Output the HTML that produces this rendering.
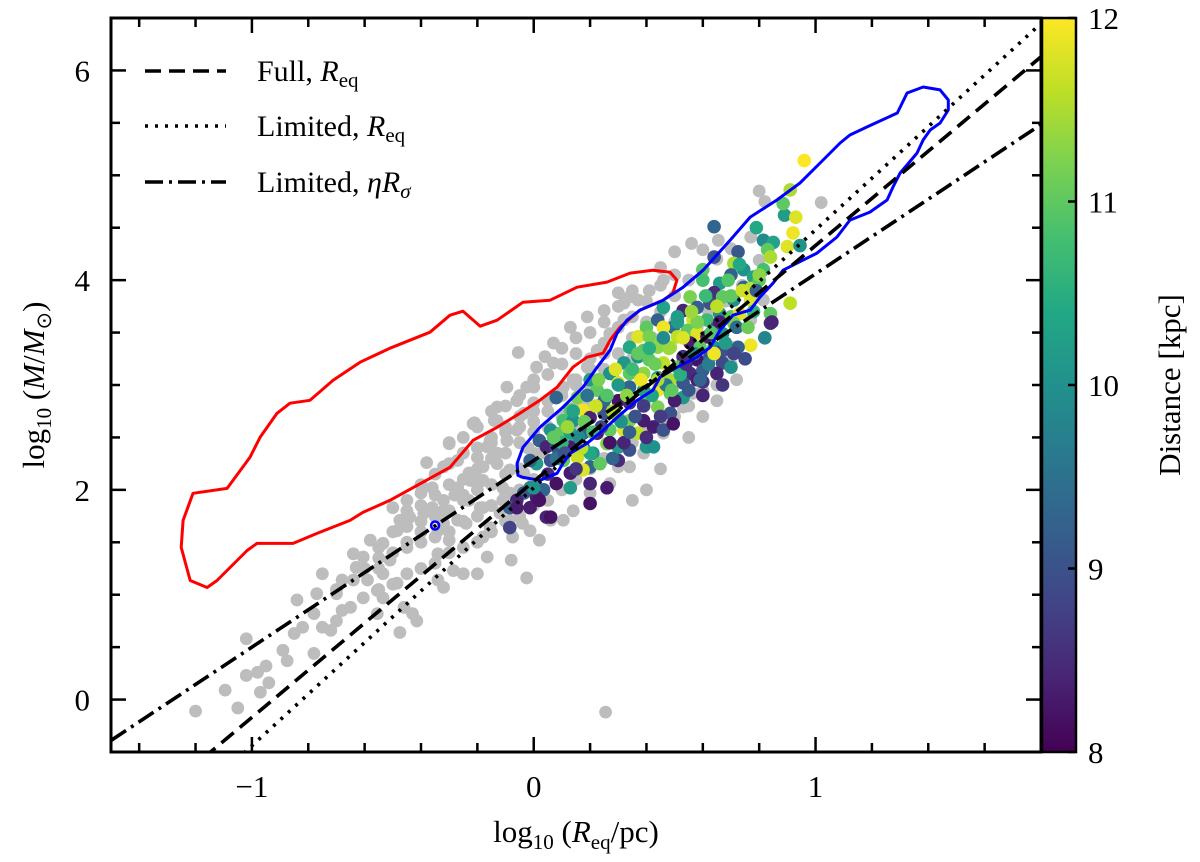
<!DOCTYPE html>
<html><head><meta charset="utf-8"><style>
html,body{margin:0;padding:0;background:#fff;}
svg{display:block;font-family:"Liberation Serif",serif;}
</style></head><body>
<svg id="chart" width="1200" height="862" viewBox="0 0 1200 862" xmlns="http://www.w3.org/2000/svg">
<defs>
<clipPath id="clip"><rect x="111" y="18" width="930" height="734"/></clipPath>
<linearGradient id="viridis" x1="0" y1="1" x2="0" y2="0">
<stop offset="0" stop-color="#440154"/><stop offset="0.1" stop-color="#482475"/><stop offset="0.2" stop-color="#414487"/><stop offset="0.3" stop-color="#355f8d"/><stop offset="0.4" stop-color="#2a788e"/><stop offset="0.5" stop-color="#21918c"/><stop offset="0.6" stop-color="#22a884"/><stop offset="0.7" stop-color="#44bf70"/><stop offset="0.8" stop-color="#7ad151"/><stop offset="0.9" stop-color="#bddf26"/><stop offset="1" stop-color="#fde725"/>
</linearGradient>
</defs>
<g id="plot" clip-path="url(#clip)"></g>
<g id="axes"></g>
</svg>
<script>
const xDomain=[-1.5,1.8], yDomain=[-0.5,6.5], cDomain=[8,12];
const xTicks=[-1,0,1], xTickLabels=["\u22121","0","1"];
const yTicks=[0,2,4,6], yTickLabels=["0","2","4","6"];
const cTicks=[8,9,10,11,12];
const grayX=[-1.20,-1.05,-1.095,-1.02,-1.02,-0.98,-0.95,-0.94,-0.97,-0.89,-0.875,-0.85,-0.82,-0.84,-0.77,-0.75,-0.78,-0.75,-0.78,-0.72,-0.70,-0.68,-0.64,-0.64,-0.605,-0.58,-0.59,-0.555,-0.535,-0.51,-0.485,-0.50,-0.45,-0.44,-0.475,-0.40,-0.38,-0.30,-0.39,-0.485,-0.46,-0.415,-0.475,-0.43,-0.34,-0.32,-0.285,-0.25,-0.20,-0.165,-0.08,-0.025,0.02,-0.18,-0.34,-0.30,-0.24,-0.23,-0.18,-0.165,-0.215,-0.13,-0.095,-0.06,0.0,-0.12,-0.11,-0.04,-0.075,-0.23,-0.27,-0.32,-0.36,-0.32,-0.27,-0.25,-0.18,-0.13,-0.085,-0.20,-0.155,-0.535,-0.63,-0.68,-0.70,-0.605,-0.65,-0.535,-0.555,-0.055,0.04,0.07,-0.21,-0.14,-0.30,-0.27,-0.32,-0.36,0.25,0.32,0.34,0.37,0.41,0.45,0.46,0.50,0.56,0.60,0.655,0.77,1.02,0.80,0.32,0.27,0.225,0.19,0.14,0.105,0.05,0.0,-0.035,-0.06,-0.095,-0.13,-0.18,-0.225,-0.27,-0.32,-0.34,-0.19,-0.11,-0.085,-0.013,0.105,0.14,0.20,0.27,0.34,0.39,0.46,0.53,0.565,0.65,0.67,0.70,0.77,0.815,0.06,0.30,0.485,-0.085,-0.035,-0.155,-0.25,-0.13,-0.095,-0.025,0.01,0.07,0.13,0.19,0.30,0.255,0.8,0.82,0.45,0.55,0.6,0.65,0.4,0.35,0.72,-0.05,0.05,0.1,0.15,0.2,0.25,-0.15,-0.1,0.0,0.08,0.12,0.18,0.22,0.28,0.35,0.42,0.5,-0.4,-0.35,-0.45,-0.55,-0.6,-0.7,-0.2,-0.28,0.58,0.62,0.68,0.74,-0.02,0.03,0.16,0.24,
-0.55,-0.55,-0.55,-0.5,-0.5,-0.5,-0.45,-0.45,-0.45,-0.45,-0.4,-0.4,-0.4,-0.4,-0.4,-0.35,-0.35,-0.35,-0.35,-0.35,-0.3,-0.3,-0.3,-0.3,-0.3,-0.25,-0.25,-0.25,-0.25,-0.25,-0.25,-0.2,-0.2,-0.2,-0.2,-0.2,-0.2,-0.15,-0.15,-0.15,-0.15,-0.15,-0.15,-0.1,-0.1,-0.1,-0.1,-0.1,-0.1,-0.05,-0.05,-0.05,-0.05,-0.05,-0.05,0.0,0.0,0.0,0.0,0.0,0.0,0.05,0.05,0.05,0.05,0.1,0.1,0.1,0.1,0.1,0.15,0.15,0.15,0.15,0.15,0.2,0.2,0.2,0.2,0.25,0.25,0.25,0.25,0.3,0.3,0.3,0.3,0.35,0.35,0.35,0.35,0.4,0.4,0.4,0.45,0.45,0.45,0.5,0.5,0.5,0.55,0.55,0.6,0.6,0.65,0.65,0.7,0.7];
const grayY=[-0.11,-0.08,0.09,0.23,0.58,0.26,0.32,0.16,0.07,0.47,0.37,0.63,0.69,0.95,1.01,1.20,0.82,0.69,0.44,0.66,0.75,0.85,1.14,1.39,1.36,1.52,1.14,1.04,1.20,1.33,1.61,1.83,1.80,1.74,1.71,1.97,2.26,2.44,1.78,1.11,0.88,0.75,0.64,0.82,1.14,1.07,1.23,1.20,1.20,1.36,1.33,1.16,1.52,1.55,1.39,1.52,1.68,1.90,2.09,2.41,2.63,2.66,2.47,2.85,2.98,1.78,2.02,1.68,1.55,2.16,2.02,1.90,1.83,1.68,1.71,1.90,1.83,2.25,2.19,2.31,1.64,1.49,1.26,1.14,1.01,0.97,0.88,0.97,0.82,3.31,3.27,3.21,2.64,2.66,2.45,2.28,2.22,2.02,3.71,3.78,3.84,3.81,3.90,4.12,4.00,4.27,4.35,4.29,4.38,4.41,4.74,4.19,3.62,3.49,3.33,3.17,3.05,2.98,2.85,2.83,2.73,2.57,2.47,2.35,2.22,2.09,1.97,1.80,1.61,1.83,1.90,1.71,1.61,1.71,1.80,1.97,2.06,2.22,2.35,2.54,2.79,2.92,3.11,3.26,3.36,3.62,3.81,1.71,2.22,2.73,1.97,2.16,2.47,2.35,2.79,2.98,2.98,3.17,3.40,3.55,3.65,3.88,-0.12,4.85,4.75,2.2,2.5,2.7,2.85,2.0,1.9,3.05,2.6,2.75,2.9,3.0,3.15,3.3,2.45,2.55,2.65,2.5,2.7,2.8,3.0,3.1,3.25,3.45,3.6,1.6,1.75,1.5,1.35,1.25,1.05,2.1,1.95,3.55,3.7,3.8,3.95,2.4,2.35,2.55,2.6,
1.05,1.25,1.45,1.1,1.4,1.6,1.2,1.45,1.65,1.9,1.25,1.5,1.7,1.85,2.05,1.3,1.55,1.75,1.95,2.15,1.4,1.6,1.8,2.05,2.25,1.45,1.7,1.95,2.1,2.35,2.5,1.5,1.75,2.0,2.2,2.4,2.6,1.6,1.85,2.05,2.3,2.5,2.75,1.7,1.95,2.15,2.35,2.6,2.8,1.75,2.0,2.2,2.45,2.7,2.9,1.85,2.1,2.35,2.55,2.75,3.05,1.9,2.6,2.85,3.1,2.0,2.7,2.95,3.2,3.35,2.1,2.8,3.05,3.3,3.45,2.2,3.0,3.25,3.5,2.3,3.15,3.4,3.6,2.4,3.3,3.55,3.75,2.45,3.45,3.65,3.9,2.55,3.6,3.8,2.65,3.7,3.95,2.7,3.85,4.05,2.8,4.0,2.95,4.1,3.0,4.2,3.2,4.3];
const colX=[0.64,0.89,0.93,0.885,0.79,0.92,0.815,0.85,0.90,0.945,0.83,0.84,0.815,0.91,0.84,0.84,0.77,0.725,0.64,0.725,0.71,0.745,0.70,0.78,0.60,0.66,0.745,0.77,0.80,0.60,0.64,0.67,0.71,0.77,0.555,0.58,0.625,0.66,0.70,0.73,0.53,0.51,0.565,0.615,0.65,0.67,0.71,0.46,0.495,0.545,0.58,0.615,0.44,0.40,0.46,0.37,0.41,0.46,0.51,0.555,0.59,0.64,0.67,0.34,0.39,0.44,0.485,0.53,0.58,0.625,0.67,0.70,0.37,0.41,0.46,0.51,0.555,0.60,0.65,0.32,0.34,0.39,0.44,0.485,0.53,0.58,0.60,0.27,0.30,0.34,0.39,0.44,0.485,0.53,0.20,0.225,0.25,0.30,0.34,0.39,0.44,0.485,0.155,0.175,0.13,0.105,0.14,0.20,0.25,0.30,0.34,0.39,0.425,0.46,0.495,0.06,0.095,0.13,0.175,0.225,0.27,0.32,0.37,0.40,0.425,0.02,0.045,0.08,0.13,0.175,0.21,0.26,0.30,0.34,0.155,0.105,0.06,0.01,-0.013,0.20,0.235,0.30,0.175,0.13,0.08,0.13,0.20,0.26,0.035,-0.013,0.01,-0.035,-0.06,-0.085,-0.013,0.02,0.045,0.20,-0.085,-0.06,0.06,0.0,0.08,0.96,0.91,0.845,
0.08,0.1,0.12,0.15,0.16,0.18,0.2,0.22,0.24,0.26,0.28,0.28,0.3,0.32,0.33,0.35,0.36,0.38,0.4,0.42,0.43,0.45,0.47,0.48,0.5,0.52,0.53,0.55,0.57,0.58,0.6,0.62,0.63,0.65,0.67,0.68,0.7,0.72,0.74,0.75,0.78,0.8,0.82,0.05,0.07,0.11,0.14,0.17,0.19,0.21,0.23,0.27,0.29,0.31,0.34,0.37,0.39,0.41,0.44,0.46,0.49,0.51,0.54,0.56,0.59,0.61,0.64,0.66,0.69,0.71,0.73,0.76,0.79];
const colY=[4.51,4.62,4.60,4.73,4.50,4.45,4.38,4.36,4.32,4.33,4.29,4.22,4.10,3.78,3.68,3.59,3.38,3.36,4.22,4.27,4.16,4.10,4.05,4.03,4.10,3.97,3.93,3.92,4.00,4.00,3.88,3.84,3.81,3.81,3.84,3.74,3.78,3.68,3.65,3.68,3.71,3.65,3.62,3.62,3.55,3.49,3.59,3.74,3.55,3.52,3.49,3.46,3.62,3.55,3.55,3.46,3.46,3.43,3.46,3.40,3.36,3.36,3.33,3.36,3.33,3.36,3.36,3.27,3.24,3.27,3.21,3.17,3.27,3.24,3.21,3.17,3.11,3.14,3.11,3.21,3.11,3.11,3.07,3.05,3.02,3.05,3.03,3.11,3.02,2.98,2.95,2.95,2.92,2.88,3.05,2.95,2.85,2.85,2.83,2.83,2.79,2.73,2.88,2.76,2.76,2.66,2.66,2.69,2.73,2.69,2.66,2.66,2.60,2.57,2.63,2.57,2.54,2.54,2.54,2.54,2.57,2.57,2.54,2.41,2.41,2.47,2.41,2.41,2.41,2.41,2.35,2.44,2.41,2.38,2.31,2.28,2.28,2.25,2.28,2.22,2.25,2.28,2.19,2.16,2.06,2.02,2.06,2.02,2.00,2.02,1.93,1.97,1.90,1.83,1.83,1.90,1.74,1.87,1.64,1.83,1.74,2.02,2.88,5.14,4.86,3.60,
2.3,2.45,2.6,2.2,2.5,2.65,2.35,2.8,2.6,2.9,2.3,2.75,3.0,2.45,2.9,3.15,2.7,3.05,2.5,2.9,3.2,2.7,3.0,3.35,2.85,3.1,3.45,2.95,3.3,3.6,2.9,3.2,3.5,3.75,3.0,3.4,3.85,3.55,3.9,3.25,3.7,4.05,3.45,2.15,2.5,2.35,2.75,2.4,2.9,2.55,3.05,2.45,3.15,2.65,2.55,3.3,2.8,3.35,3.05,3.45,2.95,3.6,3.2,3.7,3.05,3.85,3.3,3.6,4.0,3.3,4.15,3.55,3.9];
const colD=[9.3,10.2,11.8,11,10.4,11.9,9.9,10.3,11.8,10,11,11.5,10.8,11.6,11,8.5,11.9,9.2,9.0,9.1,11.5,10,9.2,10.3,11,10.2,9.3,11.6,11,10.8,8.5,11,10,11.8,11.2,9.2,9.0,10,11,11.8,8.4,10.2,11.7,10.7,9.0,10,11.2,10.3,9.4,11,11.8,8.3,9.2,11,11.9,11.8,11.2,10.2,11.6,8.3,11,10,9,10.4,11,11.3,11.5,8.5,8.2,9.1,8.9,10,10,11,11.6,11,8.5,9.2,8.4,10.1,11,11.3,10.2,11.5,9.1,8.3,8.6,10,11.8,9.3,10.3,11.9,11,10.1,10.2,11,9.3,8.2,8.5,11,11.2,9,11.2,11.9,11,10.8,10,8.4,9,11,11.2,8.3,8.3,9,8.2,10,11,10.3,9.2,8.3,11,11.8,11.6,10.1,10,9.2,8.4,9,8.3,9.1,10,11.2,10.2,9,11.7,11,9,10.2,9.2,9.3,11,8.5,11.8,8.3,8.2,10.2,8.4,8.3,9.3,9.8,8.3,9.1,8.4,9.2,8.3,8.2,8.4,8.2,8.8,8.3,8.2,10,9.3,12,11.5,8.4,
9.5,10.6,11.4,8.6,9.9,11.1,10.4,11.7,8.8,10.9,9.3,11.5,10.1,8.4,11.3,10.7,9.0,11.9,8.5,10.3,11.1,8.7,9.6,11.4,8.3,10.5,11.8,9.1,10.0,11.2,8.4,9.7,10.9,11.6,8.6,10.2,11.0,9.4,11.7,8.9,10.6,11.3,9.8,8.5,11.0,9.0,10.3,11.6,9.5,10.8,11.2,8.2,11.8,10.0,9.2,11.0,8.7,10.5,11.5,9.9,11.0,10.2,8.5,11.4,9.3,10.7,11.9,8.3,10.9,8.8,10.4,11.1,9.2];
const redCX=[-0.712,-0.616,-0.510,-0.439,-0.368,-0.297,-0.251,-0.190,-0.130,-0.038,0.058,0.154,0.260,0.342,0.423,0.484,0.508,0.494,0.459,0.377,0.306,0.271,0.246,0.189,0.139,0.083,0.022,-0.049,-0.130,-0.215,-0.297,-0.368,-0.510,-0.606,-0.652,-0.769,-0.854,-0.982,-1.017,-1.124,-1.159,-1.219,-1.251,-1.244,-1.209,-1.088,-1.007,-0.971,-0.911,-0.865,-0.794];
const redCY=[3.045,3.217,3.351,3.427,3.504,3.666,3.704,3.561,3.618,3.790,3.809,3.933,3.981,4.067,4.095,4.076,4.00,3.876,3.809,3.714,3.551,3.427,3.303,3.265,3.170,2.979,2.855,2.730,2.597,2.473,2.215,2.110,1.900,1.785,1.709,1.585,1.489,1.489,1.422,1.136,1.069,1.136,1.451,1.709,1.967,2.014,2.310,2.501,2.730,2.826,2.854];
const blueCX=[-0.059,-0.056,-0.038,0.022,0.083,0.104,0.129,0.189,0.246,0.296,0.367,0.423,0.448,0.508,0.579,0.626,0.661,0.707,0.768,0.803,0.849,0.885,0.934,1.005,1.076,1.122,1.193,1.254,1.275,1.300,1.360,1.382,1.407,1.442,1.471,1.471,1.442,1.382,1.325,1.290,1.183,1.122,1.087,1.016,0.945,0.863,0.768,0.697,0.601,0.530,0.459,0.377,0.331,0.296,0.271,0.225,0.175,0.104,0.022,-0.038];
const blueCY=[2.253,2.138,2.119,2.091,2.158,2.253,2.348,2.444,2.568,2.692,2.854,2.950,3.074,3.169,3.265,3.360,3.523,3.666,3.714,3.838,3.971,4.095,4.162,4.258,4.411,4.573,4.649,4.764,4.888,5.021,5.212,5.337,5.432,5.499,5.623,5.718,5.814,5.842,5.785,5.594,5.461,5.384,5.308,5.117,4.926,4.764,4.601,4.382,4.095,3.933,3.809,3.714,3.618,3.494,3.332,3.169,2.979,2.788,2.597,2.406];
const fitNames=["Full","Limited-Req","Limited-etaRsigma"];
const fitSlopes=[2.25,2.46,1.78];
const fitIntercepts=[2.08,2.02,2.28];

const L=111,R=1041,T=18,B=752;
const sx=v=>L+(v-xDomain[0])/(xDomain[1]-xDomain[0])*(R-L);
const sy=v=>B-(v-yDomain[0])/(yDomain[1]-yDomain[0])*(B-T);
const sc=v=>B-(v-cDomain[0])/(cDomain[1]-cDomain[0])*(B-T);
const NS="http://www.w3.org/2000/svg";
function mk(tag,attrs,parent){const e=document.createElementNS(NS,tag);for(const k in attrs)e.setAttribute(k,attrs[k]);parent.appendChild(e);return e;}
const stops=[[0,[68,1,84]],[0.1,[72,36,117]],[0.2,[65,68,135]],[0.3,[53,95,141]],[0.4,[42,120,142]],[0.5,[33,145,140]],[0.6,[34,168,132]],[0.7,[68,191,112]],[0.8,[122,209,81]],[0.9,[189,223,38]],[1,[253,231,37]]];
function viridis(t){t=Math.max(0,Math.min(1,t));for(let i=1;i<stops.length;i++){if(t<=stops[i][0]){const a=stops[i-1],b=stops[i],f=(t-a[0])/(b[0]-a[0]);return "rgb("+a[1].map((c,j)=>Math.round(c+(b[1][j]-c)*f)).join(",")+")";}}return "rgb(253,231,37)";}
const plot=document.getElementById('plot'),axes=document.getElementById('axes');

const gG=mk('g',{},plot);


for(let i=0;i<grayX.length;i++){const c=mk('circle',{cx:sx(grayX[i]),cy:sy(grayY[i]),r:6.4,fill:'#bdbdbd'},gG);

}
const gC=mk('g',{},plot);


for(let i=0;i<colX.length;i++){const c=mk('circle',{cx:sx(colX[i]),cy:sy(colY[i]),r:6.8,fill:viridis((colD[i]-cDomain[0])/(cDomain[1]-cDomain[0]))},gC);

}
function contour(xs,ys,col,name){let d='';for(let i=0;i<xs.length;i++)d+=(i?'L':'M')+sx(xs[i]).toFixed(1)+','+sy(ys[i]).toFixed(1);d+='Z';
const p=mk('path',{d:d,fill:'none',stroke:col,'stroke-width':3,'stroke-linejoin':'round'},plot);

}
contour(redCX,redCY,'#ff0000','red-contour');
contour(blueCX,blueCY,'#0000ff','blue-contour');
const sc1=mk('circle',{cx:sx(-0.35),cy:sy(1.66),r:4,fill:'none',stroke:'#0000ff','stroke-width':2.5},plot);


const dashes=["16 8","3 7","18 6 3 6"];
for(let k=0;k<fitSlopes.length;k++){
 const x0=xDomain[0],x1=xDomain[1];
 const l=mk('line',{x1:sx(x0),y1:sy(fitIntercepts[k]+fitSlopes[k]*x0),x2:sx(x1),y2:sy(fitIntercepts[k]+fitSlopes[k]*x1),stroke:'#000','stroke-width':3.6,'stroke-dasharray':dashes[k]},plot);
 
 
}
const legY=[71,126,182];
const leg=mk('g',{},axes);


const legTxt=['Full, <tspan font-style="italic">R</tspan><tspan font-size="21" dy="6">eq</tspan>','Limited, <tspan font-style="italic">R</tspan><tspan font-size="21" dy="6">eq</tspan>','Limited, <tspan font-style="italic">ηR</tspan><tspan font-size="21" font-style="italic" dy="6">σ</tspan>'];
for(let k=0;k<3;k++){
 const l=mk('line',{x1:145,y1:legY[k],x2:226,y2:legY[k],stroke:'#000','stroke-width':3.6,'stroke-dasharray':dashes[k]},leg);
 
 
 const t=mk('text',{x:257,y:legY[k]+10,'font-size':30},leg);
 t.innerHTML=legTxt[k];
 
 
}
const fr=mk('rect',{x:L,y:T,width:R-L,height:B-T,fill:'none',stroke:'#000','stroke-width':3},axes);


function tk(x1,y1,x2,y2){const t=mk('line',{x1,y1,x2,y2,stroke:'#000','stroke-width':2.5},axes);

}
for(let v=-1.4;v<=1.81;v+=0.2){const x=sx(v),maj=Math.abs(v-Math.round(v))<1e-6,len=maj?15:9;tk(x,B,x,B-len);tk(x,T,x,T+len);}
for(let v=-0.5;v<=6.51;v+=0.5){const y=sy(v),maj=Math.abs(v/2-Math.round(v/2))<1e-6,len=maj?15:9;tk(L,y,L+len,y);tk(R,y,R-len,y);}
for(let i=0;i<xTicks.length;i++){const t=mk('text',{x:sx(xTicks[i]),y:797,'font-size':31,'text-anchor':'middle'},axes);t.textContent=xTickLabels[i];

}
for(let i=0;i<yTicks.length;i++){const t=mk('text',{x:90,y:sy(yTicks[i])+11,'font-size':31,'text-anchor':'end'},axes);t.textContent=yTickLabels[i];

}
const xl=mk('text',{x:576,y:842,'font-size':31,'text-anchor':'middle'},axes);
xl.innerHTML='log<tspan font-size="21" dy="7">10</tspan><tspan dy="-7"> (</tspan><tspan font-style="italic">R</tspan><tspan font-size="21" dy="7">eq</tspan><tspan dy="-7">/pc)</tspan>';


const yl=mk('text',{x:0,y:0,'font-size':31,'text-anchor':'middle',transform:'translate(44,385) rotate(-90)'},axes);
yl.innerHTML='log<tspan font-size="21" dy="7">10</tspan><tspan dy="-7"> (</tspan><tspan font-style="italic">M</tspan>/<tspan font-style="italic">M</tspan><tspan font-size="21" dy="7">⊙</tspan><tspan dy="-7">)</tspan>';


const cb=mk('rect',{x:1042,y:T,width:34,height:B-T,fill:'url(#viridis)',stroke:'#000','stroke-width':2.5},axes);


for(let i=0;i<cTicks.length;i++){const y=sc(cTicks[i]);tk(1076,y,1068,y);
const t=mk('text',{x:1088,y:y+11,'font-size':31},axes);t.textContent=String(cTicks[i]);

}
const cl=mk('text',{x:0,y:0,'font-size':31,'text-anchor':'middle',transform:'translate(1180,385) rotate(-90)'},axes);
cl.textContent='Distance [kpc]';


</script>
</body></html>
